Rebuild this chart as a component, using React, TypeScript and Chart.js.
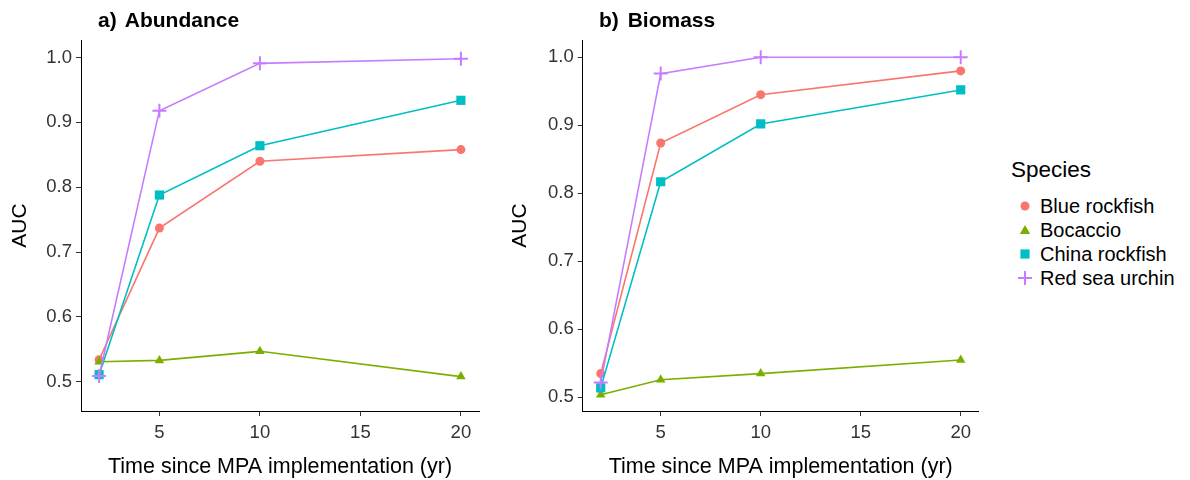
import React, { useEffect, useRef } from "react";
import { Chart, registerables } from "chart.js";
Chart.register(...registerables);

const years = [2, 5, 10, 20];
const xTicks = [5, 10, 15, 20];
const yTicks = [0.5, 0.6, 0.7, 0.8, 0.9, 1.0];
const speciesNames = ["Blue rockfish", "Bocaccio", "China rockfish", "Red sea urchin"];
const speciesColors = ["#F8766D", "#7CAE00", "#00BFC4", "#C77CFF"];
const speciesShapes = ["circle", "triangle", "rect", "cross"];
const speciesRadius = [4.5, 5.5, 6.5, 7];

const abundanceBlue = [0.534, 0.737, 0.84, 0.858];
const abundanceBocaccio = [0.531, 0.533, 0.547, 0.508];
const abundanceChina = [0.511, 0.788, 0.864, 0.934];
const abundanceUrchin = [0.509, 0.918, 0.991, 0.998];

const biomassBlue = [0.535, 0.874, 0.945, 0.98];
const biomassBocaccio = [0.504, 0.526, 0.535, 0.555];
const biomassChina = [0.514, 0.817, 0.902, 0.952];
const biomassUrchin = [0.522, 0.976, 1.0, 1.0];

const FONT = "'Liberation Sans', Arial, Helvetica, sans-serif";

function makeConfig(series: number[][], yMin: number, yMax: number, yWidth: number, padRight: number): any {
  const datasets = series.map((vals, i) => ({
    label: speciesNames[i],
    data: vals.map((v, j) => ({ x: years[j], y: v })),
    borderColor: speciesColors[i],
    backgroundColor: speciesColors[i],
    pointBackgroundColor: speciesColors[i],
    pointBorderColor: speciesColors[i],
    pointStyle: speciesShapes[i],
    pointRadius: speciesRadius[i],
    pointBorderWidth: speciesShapes[i] === "cross" ? 2 : 0,
    borderWidth: 1.6,
    tension: 0,
    fill: false,
    order: series.length - i,
  }));
  const gridOpts = { display: true, drawOnChartArea: false, drawTicks: true, tickLength: 5, color: "#333", lineWidth: 1 };
  return {
    type: "line",
    data: { datasets },
    options: {
      animation: false,
      responsive: false,
      layout: { padding: { top: 40, right: padRight, bottom: 0, left: 0 } },
      plugins: { legend: { display: false }, tooltip: { enabled: false } },
      scales: {
        x: {
          type: "linear",
          min: 1.1,
          max: 20.9,
          afterBuildTicks: (s: any) => { s.ticks = xTicks.map((v) => ({ value: v })); },
          afterFit: (s: any) => { s.height = 69; },
          ticks: { font: { size: 18.5, family: FONT }, color: "#333", padding: 5.5, maxRotation: 0, callback: (v: any) => String(v) },
          grid: gridOpts,
          border: { display: true, color: "#000", width: 1 },
          title: { display: true, text: "Time since MPA implementation (yr)", font: { size: 21.5, family: FONT }, color: "#000", padding: { top: 0, bottom: 0 } },
        },
        y: {
          type: "linear",
          min: yMin,
          max: yMax,
          afterBuildTicks: (s: any) => { s.ticks = yTicks.map((v) => ({ value: v })); },
          afterFit: (s: any) => { s.width = yWidth; },
          ticks: { font: { size: 18.5, family: FONT }, color: "#333", padding: 4, callback: (v: any) => Number(v).toFixed(1) },
          grid: gridOpts,
          border: { display: true, color: "#000", width: 1 },
          title: { display: true, text: "AUC", font: { size: 21, family: FONT }, color: "#000", padding: { top: 7.4, bottom: 0 } },
        },
      },
    },
  };
}

function Panel(props: { series: number[][]; yMin: number; yMax: number; yWidth: number; padRight: number; left: number }) {
  const ref = useRef<HTMLCanvasElement>(null);
  useEffect(() => {
    if (!ref.current) return;
    const chart = new Chart(ref.current, makeConfig(props.series, props.yMin, props.yMax, props.yWidth, props.padRight));
    return () => chart.destroy();
  }, []);
  return (
    <canvas
      ref={ref}
      width={490}
      height={480}
      style={{ position: "absolute", left: props.left, top: 0, width: 490, height: 480 }}
    />
  );
}

function LegendKey({ shape, color }: { shape: string; color: string }) {
  let el: any = null;
  if (shape === "circle") el = <circle cx={7} cy={7} r={4.5} fill={color} />;
  else if (shape === "triangle") el = <polygon points="7,2 12.2,11 1.8,11" fill={color} />;
  else if (shape === "rect") el = <rect x={2.4} y={2.4} width={9.2} height={9.2} fill={color} />;
  else el = (
    <g stroke={color} strokeWidth={2}>
      <line x1={0} y1={7} x2={14} y2={7} />
      <line x1={7} y1={0} x2={7} y2={14} />
    </g>
  );
  return <svg width={14} height={14} style={{ position: "absolute", left: 1018, top: -7 }}>{el}</svg>;
}

const titleStyle: any = { position: "absolute", top: 9, fontSize: 21, lineHeight: "21px", fontWeight: "bold", color: "#000", whiteSpace: "pre", wordSpacing: 3 };

export default function App() {
  const rowCenters = [206, 230, 254, 278];
  return (
    <div style={{ position: "fixed", left: 0, top: 0, width: 1190, height: 480, background: "#fff", fontFamily: FONT, overflow: "hidden" }}>
      <Panel series={[abundanceBlue, abundanceBocaccio, abundanceChina, abundanceUrchin]} yMin={0.455} yMax={1.027} yWidth={81} padRight={11} left={0} />
      <Panel series={[biomassBlue, biomassBocaccio, biomassChina, biomassUrchin]} yMin={0.48} yMax={1.0254} yWidth={82.7} padRight={11.3} left={500} />
      <div style={{ ...titleStyle, left: 98 }}>a) Abundance</div>
      <div style={{ ...titleStyle, left: 599 }}>b) Biomass</div>
      <div style={{ position: "absolute", left: 1011, top: 159, fontSize: 22.5, lineHeight: "22.5px", color: "#000" }}>Species</div>
      {speciesNames.map((name, i) => (
        <div key={name} style={{ position: "absolute", left: 0, top: rowCenters[i], height: 0 }}>
          <LegendKey shape={speciesShapes[i]} color={speciesColors[i]} />
          <div style={{ position: "absolute", left: 1040, top: -12, height: 24, lineHeight: "24px", fontSize: 20, color: "#000", whiteSpace: "nowrap" }}>{name}</div>
        </div>
      ))}
    </div>
  );
}
